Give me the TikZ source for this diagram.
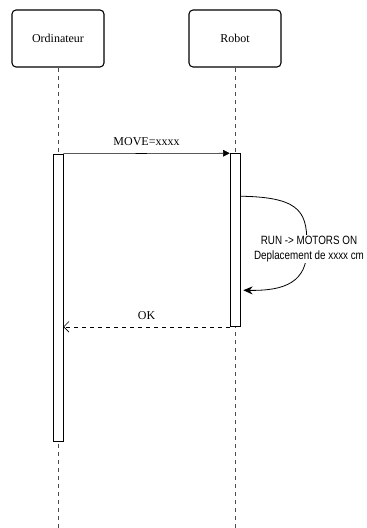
\documentclass[tikz,border=0pt]{standalone}
\usepackage{fontspec}
\setmainfont{Liberation Serif}
\setsansfont{Liberation Sans}
\usetikzlibrary{positioning,arrows.meta,calc,backgrounds}
\tikzset{
  seqbox/.style={draw, thick, rounded corners=3pt, align=center, font=\small,
    minimum width=69pt, minimum height=42.75pt, inner sep=0pt, fill=white},
  seqbar/.style={draw, fill=white, minimum width=7.5pt, inner sep=0pt},
  seqline/.style={dashed, black!70},
  seqarrow/.style={-{Triangle[length=5pt,width=5pt]}},
  seqreturn/.style={dashed, -{Straight Barb[length=4pt,width=8pt]}},
  seqlabel/.style={font=\small, align=center},
}

\begin{document}
\begin{tikzpicture}[x=0.75pt, y=-0.75pt]
  \useasboundingbox (0,0) rectangle (367,528);
  % participants
  \node[seqbox] (ord) at (58,38.5) {Ordinateur};
  \node[seqbox] (rob) at (235,38.5) {Robot};
  \coordinate (ordend) at (58,528);
  \coordinate (robend) at (235,528);
  % activations
  \node[seqbar, minimum height=215.25pt] (ordbar) at (58,297.5) {};
  \node[seqbar, minimum height=129.75pt] (robbar) at (235,240) {};
  \begin{scope}[on background layer]
    \draw[seqline] (ord.south) -- (ordend);
    \draw[seqline] (rob.south) -- (robend);
  \end{scope}
  % messages
  \draw[seqarrow] (ordbar.north east) -- node[seqlabel, above=2pt] {MOVE=xxxx} (robbar.north west);
  \coordinate (selfin) at ($(robbar.north east)+(0,43)$);
  \coordinate (selfout) at ($(robbar.north east)+(3,137)$);
  \draw[-{Stealth[length=7pt,width=6pt]}, semithick]
    (selfin) .. controls (305,197) and (307,215) .. (307,249)
    .. controls (307,282) and (285,291) .. (selfout);
  \node[seqlabel, font=\sffamily\small, fill=white, inner sep=1pt] (selflbl) at (309,249)
    {\scalebox{0.82}[1]{RUN -> MOTORS ON}\\\scalebox{0.82}[1]{Deplacement de xxxx cm}};
  \draw[seqreturn] (robbar.south west) -- node[seqlabel, above=2pt] {OK} (ordbar.east |- robbar.south);
\end{tikzpicture}
\end{document}
